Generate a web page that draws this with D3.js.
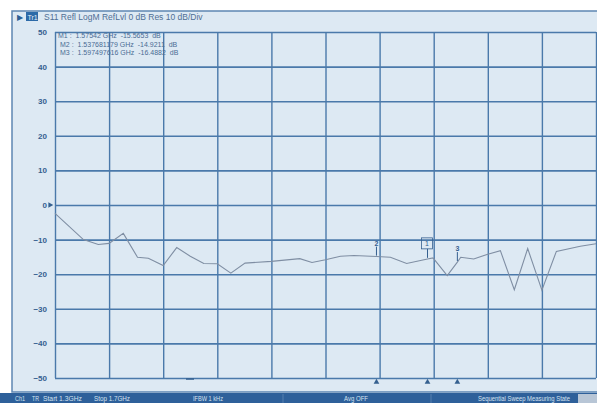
<!DOCTYPE html>
<html>
<head>
<meta charset="utf-8">
<script src="https://cdn.jsdelivr.net/npm/d3@7.9.0/dist/d3.min.js"></script>
<style>
  body { margin: 0; background: #fff; }
  svg { display: block; font-family: "Liberation Sans", Arial, sans-serif; }
  text { white-space: pre; }
</style>
</head>
<body>
<svg id="chart" width="597" height="403"></svg>
<script>
// S11 trace (GHz, dB)
const freqs = [1.300, 1.321, 1.332, 1.340, 1.3505, 1.361, 1.369, 1.380, 1.390, 1.400,
  1.410, 1.420, 1.430, 1.4405, 1.460, 1.481, 1.490, 1.500, 1.511, 1.521,
  1.5377, 1.548, 1.560, 1.5754, 1.5795, 1.590, 1.5975, 1.600, 1.6096, 1.6194,
  1.6293, 1.6396, 1.6495, 1.660, 1.6707, 1.6884, 1.700];
const s11 = [-2.4, -10.0, -11.4, -11.1, -8.2, -15.1, -15.4, -17.5, -12.3, -14.8,
  -16.9, -17.0, -19.7, -16.8, -16.3, -15.5, -16.6, -15.8, -14.8, -14.6,
  -14.9, -15.1, -16.9, -15.6, -15.3, -20.4, -16.5, -15.1, -15.6, -14.3,
  -13.2, -24.5, -12.6, -24.6, -13.4, -11.9, -11.2];

const yTicks = [50, 40, 30, 20, 10, 0, -10, -20, -30, -40, -50];
const xTicks = d3.range(0, 11).map(i => 1.3 + i * 0.04);

const markerNames = ['1', '2', '3'];
const markerFreqs = [1.57542, 1.537681179, 1.597497616];
const markerVals = [-15.5653, -14.9211, -16.4882];
const markerText = ['M1 :  1.57542 GHz  -15.5653  dB',
  'M2 :  1.537681179 GHz  -14.9211  dB',
  'M3 :  1.597497616 GHz  -16.4882  dB'];

const statusText = [
  { t: 'Ch1', x: 15, w: 10 },
  { t: 'TR', x: 32, w: 7 },
  { t: 'Start 1.3GHz', x: 43, w: 39 },
  { t: 'Stop 1.7GHz', x: 94, w: 36 },
  { t: 'IFBW 1 kHz', x: 193, w: 30 },
  { t: 'Avg OFF', x: 344, w: 24 },
  { t: 'Sequential Sweep Measuring State', x: 478, w: 92 }
];

const svg = d3.select('#chart');
const gridColor = '#4a79aa';

const x = d3.scaleLinear().domain([1.3, 1.7]).range([55, 596]);
const y = d3.scaleLinear().domain([-50, 50]).range([378, 32]);

// panel
svg.append('rect').attr('x', 12).attr('y', 11).attr('width', 592).attr('height', 381)
  .attr('fill', '#dde9f3').attr('stroke', '#5d86b3').attr('stroke-width', 1.5);

// header
svg.append('text').attr('x', 17).attr('y', 20).attr('font-size', 8).attr('fill', '#2c5f95').text('▶');
svg.append('rect').attr('x', 26).attr('y', 12).attr('width', 12).attr('height', 9).attr('fill', '#2c6aa8');
svg.append('text').attr('x', 27.5).attr('y', 19.5).attr('font-size', 7).attr('fill', '#e6eef7').text('Tr1');
svg.append('text').attr('x', 44).attr('y', 20).attr('font-size', 8.5).attr('fill', '#4f6f95')
  .text('S11 Refl LogM RefLvl 0 dB Res 10 dB/Div');

// horizontal grid + labels
const gy = svg.append('g').attr('transform', 'translate(55,0)')
  .call(d3.axisLeft(y).tickValues(yTicks).tickSize(-541).tickPadding(8).tickFormat(d3.format('d')));
gy.select('.domain').remove();
gy.selectAll('line').attr('stroke', gridColor).attr('stroke-width', 1.6);
gy.selectAll('text').attr('font-size', 8).attr('font-weight', 'bold')
  .attr('fill', '#35608f').attr('font-family', '"Liberation Sans Narrow", "Liberation Sans", sans-serif');

// vertical grid
const gx = svg.append('g').attr('transform', 'translate(0,378)')
  .call(d3.axisBottom(x).tickValues(xTicks).tickSize(-346).tickFormat(''));
gx.select('.domain').remove();
gx.selectAll('line').attr('stroke', gridColor).attr('stroke-width', 1.4);

// reference level arrow
svg.append('path').attr('d', d3.symbol(d3.symbolTriangle, 14)())
  .attr('transform', `translate(50,${y(0)}) rotate(90)`).attr('fill', '#35608f');

// marker table
markerText.forEach((t, i) => {
  svg.append('text').attr('x', i === 0 ? 58 : 60).attr('y', 38 + i * 8.6)
    .attr('font-size', 7).attr('fill', '#4a6c94').text(t);
});

// trace
const line = d3.line().x((d, i) => x(freqs[i])).y(d => y(d));
svg.append('path').datum(s11).attr('d', line)
  .attr('fill', 'none').attr('stroke', '#7f8ea3').attr('stroke-width', 1.1);

// markers on trace
markerFreqs.forEach((f, i) => {
  const mx = x(f), my = y(markerVals[i]);
  const g = svg.append('g').attr('fill', '#35608f').attr('stroke', '#35608f');
  if (i === 0) {
    g.append('rect').attr('x', mx - 6).attr('y', my - 21).attr('width', 11).attr('height', 11)
      .attr('fill', 'none').attr('stroke-width', 0.8);
    g.append('line').attr('x1', mx).attr('x2', mx).attr('y1', my - 10).attr('y2', my - 1).attr('stroke-width', 1);
    g.append('text').attr('x', mx - 0.5).attr('y', my - 12.5).attr('text-anchor', 'middle')
      .attr('font-size', 7).attr('stroke', 'none').text(markerNames[i]);
  } else {
    g.append('line').attr('x1', mx).attr('x2', mx).attr('y1', my - 10).attr('y2', my - 1).attr('stroke-width', 1);
    g.append('text').attr('x', mx).attr('y', my - 11).attr('text-anchor', 'middle')
      .attr('font-size', 7).attr('font-weight', 'bold').attr('stroke', 'none').text(markerNames[i]);
  }
  // bottom marker triangle
  svg.append('path').attr('d', d3.symbol(d3.symbolTriangle, 14)())
    .attr('transform', `translate(${mx},382)`).attr('fill', '#35608f');
});
// small dash on the bottom line
svg.append('line').attr('x1', 186).attr('x2', 194).attr('y1', 379).attr('y2', 379)
  .attr('stroke', '#35608f').attr('stroke-width', 1.5);

// status bar
svg.append('rect').attr('x', 0).attr('y', 393).attr('width', 597).attr('height', 10).attr('fill', '#2e609a');
statusText.forEach(s => {
  svg.append('text').attr('x', s.x).attr('y', 401).attr('font-size', 7).attr('fill', '#d5e2f0')
    .attr('textLength', s.w).attr('lengthAdjust', 'spacingAndGlyphs').text(s.t);
});
[283, 431].forEach(sx => {
  svg.append('line').attr('x1', sx).attr('x2', sx).attr('y1', 394).attr('y2', 403)
    .attr('stroke', '#6f93bd').attr('stroke-width', 0.6);
});
svg.append('rect').attr('x', 578).attr('y', 394).attr('width', 19).attr('height', 9).attr('fill', '#b8c6d6');
</script>
</body>
</html>
